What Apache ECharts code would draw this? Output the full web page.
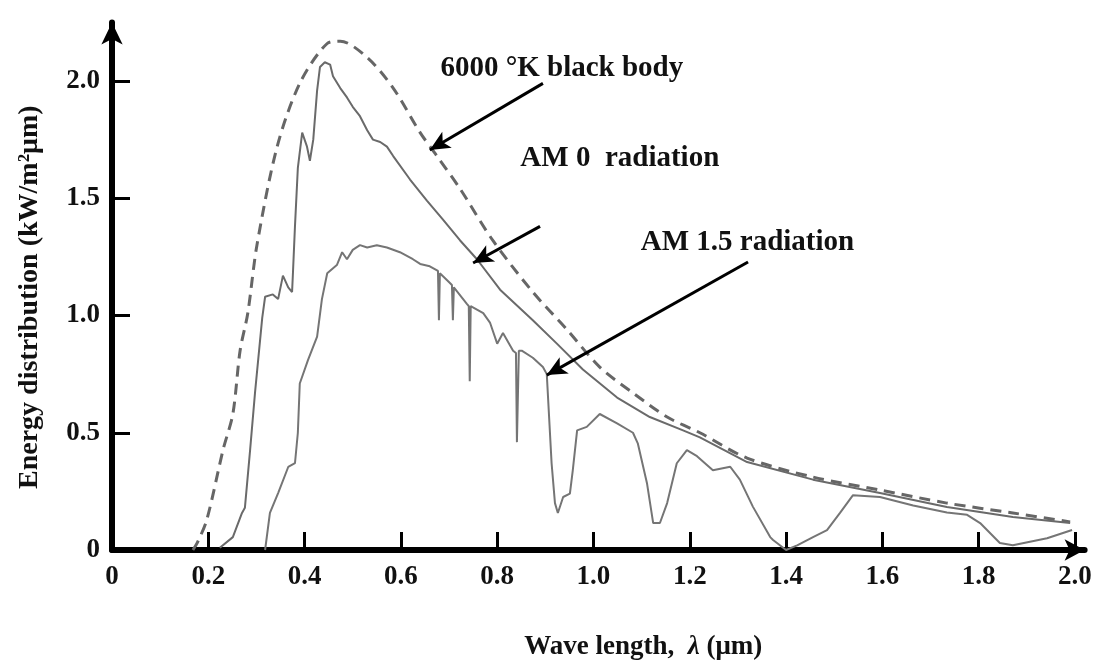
<!DOCTYPE html>
<html>
<head>
<meta charset="utf-8">
<script src="https://cdn.jsdelivr.net/npm/echarts@6/dist/echarts.min.js"></script>
<style>html,body{margin:0;padding:0;background:#fff}#c{width:1097px;height:668px}</style>
</head>
<body>
<div id="c"></div>
<script>
// ---- data (wavelength in µm, energy in kW/m²µm) ----
const xTicks = [0, 0.2, 0.4, 0.6, 0.8, 1.0, 1.2, 1.4, 1.6, 1.8, 2.0];
const xTickLabels = ['0', '0.2', '0.4', '0.6', '0.8', '1.0', '1.2', '1.4', '1.6', '1.8', '2.0'];
const yTicks = [0, 0.5, 1.0, 1.5, 2.0];
const yTickLabels = ['0', '0.5', '1.0', '1.5', '2.0'];

const bbX = [0.168,0.177,0.197,0.231,0.251,0.266,0.282,0.301,0.343,0.390,0.447,0.474,0.530,0.584,0.640,0.675,0.723,0.791,0.874,0.945,1.013,1.082,1.153,1.221,1.319,1.456,1.595,1.734,1.871,1.990];
const bbY = [0.0,0.03,0.13,0.43,0.58,0.85,1.01,1.30,1.72,1.99,2.16,2.17,2.10,1.97,1.78,1.68,1.54,1.32,1.10,0.94,0.78,0.67,0.567,0.50,0.392,0.311,0.256,0.20,0.158,0.12];

const am0X = [0.224,0.251,0.270,0.276,0.287,0.297,0.312,0.318,0.334,0.345,0.355,0.366,0.374,0.376,0.380,0.386,0.395,0.405,0.411,0.418,0.426,0.432,0.442,0.453,0.459,0.474,0.488,0.500,0.515,0.530,0.542,0.557,0.571,0.584,0.619,0.654,0.687,0.723,0.758,0.806,0.874,0.924,0.978,1.049,1.117,1.186,1.221,1.319,1.456,1.595,1.734,1.871,1.990];
const am0Y = [0.01,0.055,0.158,0.18,0.43,0.67,0.99,1.08,1.09,1.07,1.17,1.12,1.10,1.19,1.38,1.63,1.78,1.72,1.66,1.75,1.96,2.06,2.08,2.07,2.02,1.97,1.93,1.89,1.85,1.79,1.75,1.74,1.72,1.68,1.58,1.49,1.41,1.32,1.24,1.11,0.98,0.88,0.77,0.65,0.567,0.51,0.48,0.375,0.30,0.243,0.183,0.141,0.115];

const am15X = [0.318,0.328,0.345,0.366,0.380,0.386,0.390,0.407,0.426,0.436,0.447,0.467,0.478,0.488,0.500,0.515,0.530,0.550,0.571,0.598,0.625,0.640,0.660,0.677,0.679,0.681,0.696,0.706,0.708,0.710,0.737,0.741,0.743,0.745,0.771,0.785,0.800,0.812,0.833,0.839,0.841,0.845,0.851,0.874,0.895,0.903,0.913,0.920,0.926,0.937,0.951,0.957,0.966,0.986,1.013,1.049,1.082,1.092,1.111,1.124,1.138,1.153,1.173,1.194,1.215,1.248,1.284,1.304,1.331,1.367,1.373,1.400,1.423,1.456,1.485,1.512,1.539,1.595,1.664,1.734,1.776,1.803,1.844,1.871,1.942,1.994];
const am15Y = [0.0,0.158,0.243,0.354,0.37,0.50,0.71,0.81,0.91,1.07,1.18,1.215,1.27,1.24,1.28,1.30,1.29,1.30,1.29,1.27,1.24,1.22,1.21,1.19,0.98,1.18,1.15,1.13,0.98,1.12,1.05,1.04,0.72,1.04,1.01,0.97,0.88,0.925,0.85,0.84,0.46,0.85,0.85,0.82,0.78,0.75,0.37,0.20,0.158,0.226,0.24,0.34,0.51,0.525,0.58,0.54,0.50,0.455,0.286,0.115,0.115,0.20,0.37,0.426,0.40,0.34,0.355,0.30,0.185,0.055,0.043,0.0,0.02,0.055,0.085,0.158,0.234,0.226,0.19,0.16,0.15,0.115,0.03,0.02,0.05,0.085];

// annotations (data coordinates)
const labelTexts = ['6000 °K black body', 'AM 0  radiation', 'AM 1.5 radiation'];
const labelAt = [[0.681, 2.055], [0.847, 1.67], [1.097, 1.31]];
const arrowFrom = [[0.895, 1.99], [0.889, 1.38], [1.321, 1.228]];
const arrowTo = [[0.660, 1.706], [0.750, 1.224], [0.903, 0.746]];

const zip = (xs, ys) => xs.map((x, i) => [x, ys[i]]);
const serif = '"Liberation Serif", "DejaVu Serif", serif';

const chart = echarts.init(document.getElementById('c'), null, {renderer: 'canvas'});
chart.setOption({
  animation: false,
  backgroundColor: '#fff',
  grid: {left: 112, right: 12.4, top: 22.4, bottom: 118, containLabel: false},
  xAxis: {
    type: 'value', min: 0, max: 2.02,
    splitLine: {show: false},
    axisLine: {show: true, lineStyle: {color: '#000', width: 6}, symbol: ['none', 'arrow'], symbolSize: [16, 20]},
    axisTick: {show: true, inside: true, length: 18, lineStyle: {color: '#000', width: 3}, customValues: xTicks.slice(1)},
    axisLabel: {
      customValues: xTicks, margin: 14,
      formatter: v => { const i = xTicks.findIndex(t => Math.abs(t - v) < 1e-6); return i >= 0 ? xTickLabels[i] : ''; },
      fontFamily: serif, fontWeight: 'bold', fontSize: 27, color: '#111'
    },
    name: 'Wave length,  {i|λ} (μm)', nameLocation: 'middle', nameGap: 84,
    nameTextStyle: {fontFamily: serif, fontSize: 27, fontWeight: 'bold', color: '#111', padding: [0, 0, 0, 90],
      rich: {i: {fontFamily: serif, fontStyle: 'italic', fontSize: 27, color: '#111'}}}
  },
  yAxis: {
    type: 'value', min: 0, max: 2.25,
    splitLine: {show: false},
    axisLine: {show: true, lineStyle: {color: '#000', width: 6}, symbol: ['none', 'arrow'], symbolSize: [16, 22]},
    axisTick: {show: true, inside: true, length: 18, lineStyle: {color: '#000', width: 3}, customValues: yTicks.slice(1)},
    axisLabel: {
      customValues: yTicks, margin: 12,
      formatter: v => { const i = yTicks.findIndex(t => Math.abs(t - v) < 1e-6); return i >= 0 ? yTickLabels[i] : ''; },
      fontFamily: serif, fontWeight: 'bold', fontSize: 27, color: '#111'
    },
    name: 'Energy distribution (kW/m²μm)', nameLocation: 'middle', nameGap: 68, nameRotate: 90,
    nameTextStyle: {fontFamily: serif, fontSize: 28, fontWeight: 'bold', color: '#111', padding: [0, 22, 0, 0]}
  },
  series: [
    {
      name: '6000 K black body', type: 'line', data: zip(bbX, bbY), smooth: 0.3, symbol: 'none',
      lineStyle: {color: '#666', width: 3, type: [11, 7]}, z: 3
    },
    {
      name: 'AM 0', type: 'line', data: zip(am0X, am0Y), symbol: 'none',
      lineStyle: {color: '#6a6a6a', width: 2}, z: 4
    },
    {
      name: 'AM 1.5', type: 'line', data: zip(am15X, am15Y), symbol: 'none',
      lineStyle: {color: '#757575', width: 2}, z: 4,
      markLine: {
        silent: true, symbol: ['none', 'arrow'], symbolSize: [14, 20],
        lineStyle: {color: '#000', width: 3, type: 'solid'}, label: {show: false},
        data: arrowFrom.map((f, i) => [{coord: f}, {coord: arrowTo[i]}])
      },
      markPoint: {
        silent: true, symbol: 'circle', symbolSize: 1, itemStyle: {color: 'rgba(0,0,0,0)'},
        label: {show: true, position: 'right', distance: 0, fontFamily: serif, fontWeight: 'bold', fontSize: 29, color: '#111',
          formatter: p => p.name},
        data: labelTexts.map((t, i) => ({name: t, coord: labelAt[i]}))
      }
    }
  ]
});
</script>
</body>
</html>
